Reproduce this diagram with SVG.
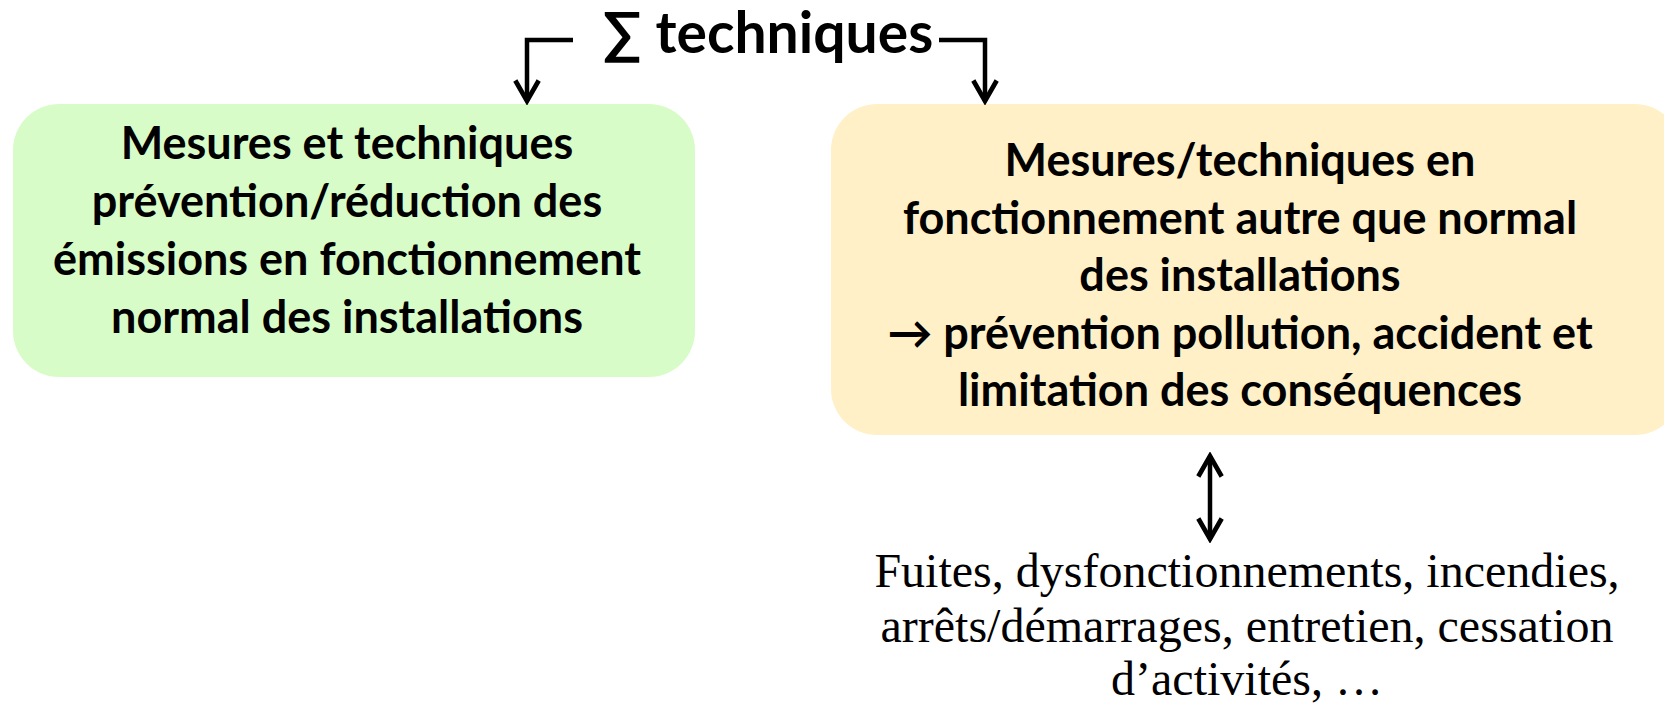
<svg xmlns="http://www.w3.org/2000/svg" width="1664" height="704" viewBox="0 0 1664 704">
<style>
.b{font-family:Lato,"Open Sans",sans-serif;font-weight:bold;fill:#000;text-anchor:middle}
.s{font-family:"Liberation Serif","Times New Roman",serif;fill:#000;text-anchor:middle}
.c{fill:none;stroke:#000;stroke-width:4.5}
</style>
<defs>
<marker id="ah" viewBox="0 0 20 20" refX="17" refY="10" markerWidth="6.5" markerHeight="6.5" markerUnits="strokeWidth" orient="auto-start-reverse">
<path d="M3,2 L17,10 L3,18" fill="none" stroke="#000" stroke-width="3.2" stroke-linejoin="miter"/>
</marker>
</defs>
<g id="title"><text class="b" x="768" y="53" font-size="57">∑ techniques</text></g>
<g id="left">
<rect x="13" y="104" width="682" height="273" rx="46" fill="#d8fcc8"/>
<text class="b" font-size="45"><tspan x="347" y="159">Mesures et techniques</tspan><tspan x="347" y="217">prévention/réduction des</tspan><tspan x="347" y="275">émissions en fonctionnement</tspan><tspan x="347" y="333">normal des installations</tspan></text>
</g>
<g id="right">
<rect x="831" y="104" width="850" height="331" rx="46" fill="#fff0c7"/>
<text class="b" font-size="45"><tspan x="1240" y="176">Mesures/techniques en</tspan><tspan x="1240" y="234">fonctionnement autre que normal</tspan><tspan x="1240" y="291">des installations</tspan><tspan x="1240" y="349">→ prévention pollution, accident et</tspan><tspan x="1240" y="406">limitation des conséquences</tspan></text>
</g>
<g id="bottom">
<text class="s" font-size="48"><tspan x="1247" y="587">Fuites, dysfonctionnements, incendies,</tspan><tspan x="1247" y="642">arrêts/démarrages, entretien, cessation</tspan><tspan x="1247" y="695">d’activités, …</tspan></text>
</g>
<g id="connectors">
<path class="c" d="M573,40 H527 V101" marker-end="url(#ah)"/>
<path class="c" d="M939,40 H985 V101" marker-end="url(#ah)"/>
<path class="c" d="M1210,456 V539" marker-start="url(#ah)" marker-end="url(#ah)"/>
</g>
</svg>
